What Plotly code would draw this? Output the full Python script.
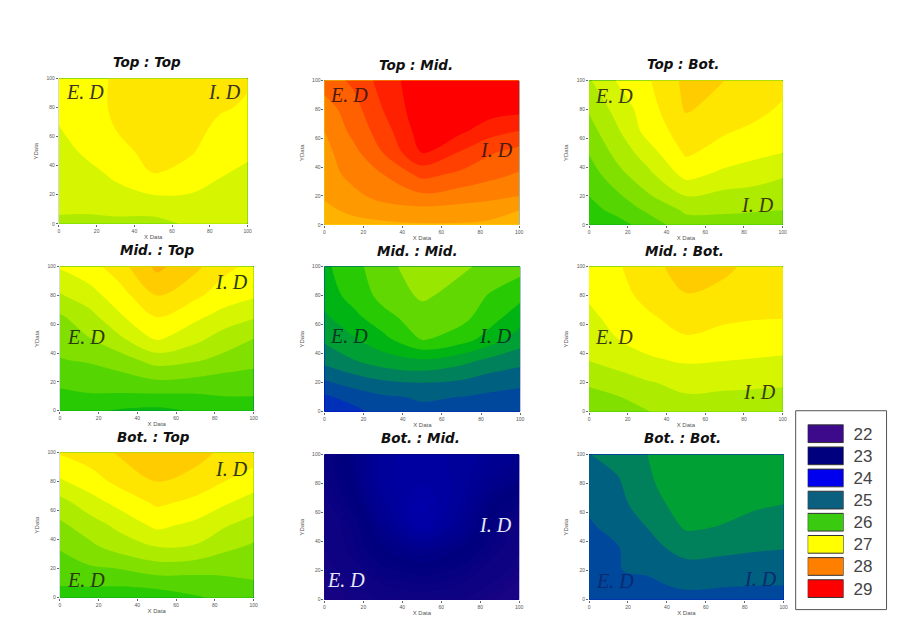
import plotly.graph_objects as go

X_DATA = [0, 15, 30, 50, 70, 85, 100]
Y_DATA = [0, 10, 20, 35, 50, 65, 80, 100]
TICKS = [0, 20, 40, 60, 80, 100]

TOP_TOP = [
    [26.64, 26.64, 26.66, 26.66, 26.72, 26.74, 26.74],
    [26.74, 26.73, 26.74, 26.74, 26.78, 26.79, 26.80],
    [26.76, 26.78, 26.84, 26.90, 26.89, 26.84, 26.82],
    [26.78, 26.84, 26.94, 27.10, 27.03, 26.92, 26.86],
    [26.82, 26.94, 27.04, 27.16, 27.12, 27.00, 26.94],
    [26.89, 27.00, 27.10, 27.18, 27.16, 27.06, 27.00],
    [26.94, 27.02, 27.13, 27.18, 27.17, 27.12, 27.08],
    [26.96, 27.04, 27.12, 27.18, 27.16, 27.14, 27.12],
]
TOP_MID = [
    [27.64, 27.64, 27.66, 27.68, 27.68, 27.66, 27.64],
    [27.66, 27.74, 27.80, 27.84, 27.82, 27.78, 27.70],
    [27.72, 27.84, 27.98, 28.06, 28.00, 27.96, 27.90],
    [27.79, 27.98, 28.10, 28.36, 28.26, 28.16, 28.08],
    [27.84, 28.04, 28.30, 28.70, 28.48, 28.32, 28.22],
    [27.90, 28.16, 28.40, 28.80, 28.74, 28.58, 28.50],
    [28.00, 28.22, 28.50, 28.84, 28.84, 28.80, 28.76],
    [28.20, 28.34, 28.58, 28.84, 28.88, 28.88, 28.88],
]
TOP_BOT = [
    [25.90, 26.03, 26.18, 26.42, 26.44, 26.43, 26.42],
    [26.03, 26.16, 26.33, 26.53, 26.52, 26.51, 26.50],
    [26.10, 26.27, 26.47, 26.70, 26.64, 26.62, 26.60],
    [26.20, 26.44, 26.64, 26.97, 26.85, 26.80, 26.72],
    [26.31, 26.57, 26.80, 27.13, 27.02, 26.95, 26.90],
    [26.42, 26.68, 26.97, 27.20, 27.12, 27.06, 27.00],
    [26.52, 26.78, 27.00, 27.32, 27.22, 27.16, 27.07],
    [26.68, 26.92, 27.07, 27.35, 27.30, 27.22, 27.16],
]
MID_TOP = [
    [25.93, 25.95, 25.88, 25.85, 25.92, 25.98, 26.00],
    [26.05, 26.08, 26.07, 26.06, 26.07, 26.10, 26.10],
    [26.14, 26.17, 26.20, 26.27, 26.24, 26.20, 26.19],
    [26.29, 26.32, 26.40, 26.58, 26.52, 26.44, 26.37],
    [26.37, 26.49, 26.65, 26.93, 26.76, 26.60, 26.50],
    [26.47, 26.62, 26.86, 27.10, 26.94, 26.82, 26.72],
    [26.68, 26.82, 27.00, 27.31, 27.14, 27.00, 26.93],
    [26.92, 27.02, 27.20, 27.55, 27.35, 27.15, 27.05],
]
MID_MID = [
    [24.38, 24.55, 24.72, 24.82, 24.78, 24.70, 24.62],
    [24.58, 24.72, 24.84, 24.90, 24.87, 24.82, 24.78],
    [24.83, 24.98, 25.08, 25.13, 25.08, 24.98, 24.93],
    [25.20, 25.36, 25.50, 25.58, 25.45, 25.30, 25.20],
    [25.42, 25.60, 25.80, 26.15, 26.00, 25.75, 25.50],
    [25.58, 25.80, 26.05, 26.25, 26.20, 25.98, 25.72],
    [25.73, 25.98, 26.20, 26.42, 26.27, 26.10, 25.95],
    [25.82, 26.05, 26.27, 26.55, 26.42, 26.30, 26.22],
]
MID_BOT = [
    [26.38, 26.44, 26.49, 26.60, 26.62, 26.62, 26.60],
    [26.43, 26.49, 26.57, 26.68, 26.66, 26.65, 26.64],
    [26.53, 26.60, 26.68, 26.76, 26.75, 26.74, 26.73],
    [26.70, 26.78, 26.87, 26.92, 26.90, 26.89, 26.88],
    [26.78, 26.90, 26.97, 27.08, 27.00, 26.97, 26.96],
    [26.85, 26.98, 27.07, 27.18, 27.15, 27.12, 27.11],
    [26.93, 27.04, 27.15, 27.29, 27.24, 27.18, 27.16],
    [26.98, 27.08, 27.22, 27.40, 27.34, 27.25, 27.20],
]
BOT_TOP = [
    [25.97, 25.97, 25.95, 25.98, 26.08, 26.14, 26.18],
    [26.13, 26.14, 26.14, 26.18, 26.20, 26.25, 26.28],
    [26.20, 26.27, 26.30, 26.40, 26.38, 26.35, 26.37],
    [26.32, 26.45, 26.58, 26.70, 26.68, 26.55, 26.47],
    [26.46, 26.60, 26.75, 26.95, 26.85, 26.72, 26.62],
    [26.62, 26.80, 26.95, 27.13, 27.05, 26.92, 26.80],
    [26.87, 27.00, 27.15, 27.30, 27.20, 27.10, 27.00],
    [27.12, 27.20, 27.32, 27.47, 27.40, 27.24, 27.20],
]
BOT_MID = [
    [22.62, 22.68, 22.74, 22.78, 22.74, 22.64, 22.58],
    [22.64, 22.72, 22.82, 22.86, 22.82, 22.72, 22.60],
    [22.68, 22.78, 22.90, 22.96, 22.90, 22.78, 22.68],
    [22.72, 22.86, 23.02, 23.12, 23.02, 22.88, 22.74],
    [22.74, 22.88, 23.12, 23.36, 23.16, 22.96, 22.78],
    [22.78, 22.96, 23.20, 23.40, 23.22, 23.02, 22.92],
    [22.85, 23.02, 23.26, 23.32, 23.26, 23.12, 23.02],
    [22.88, 23.05, 23.26, 23.30, 23.26, 23.20, 23.12],
]
BOT_BOT = [
    [24.65, 24.68, 24.72, 24.78, 24.78, 24.78, 24.78],
    [24.70, 24.78, 24.83, 24.92, 24.89, 24.88, 24.875],
    [24.72, 24.87, 24.90, 25.04, 25.00, 24.97, 24.95],
    [24.78, 24.86, 25.05, 25.20, 25.18, 25.15, 25.13],
    [24.84, 24.97, 25.13, 25.41, 25.36, 25.30, 25.23],
    [24.92, 25.05, 25.25, 25.50, 25.44, 25.40, 25.37],
    [25.00, 25.10, 25.33, 25.55, 25.50, 25.48, 25.47],
    [25.12, 25.20, 25.375, 25.55, 25.52, 25.50, 25.50],
]

TITLES = ["Top : Top", "Top : Mid.", "Top : Bot.",
          "Mid. : Top", "Mid. : Mid.", "Mid. : Bot.",
          "Bot. : Top", "Bot. : Mid.", "Bot. : Bot."]
PANELS = [TOP_TOP, TOP_MID, TOP_BOT, MID_TOP, MID_MID, MID_BOT, BOT_TOP, BOT_MID, BOT_BOT]
BAND_SIZE = [0.2, 0.2, 0.2, 0.2, 0.25, 0.2, 0.2, 0.05, 0.25]
BAND_START = [21.9, 21.9, 21.9, 21.9, 21.875, 21.9, 21.9, 21.975, 21.875]

LEGEND_VALUES = ["22", "23", "24", "25", "26", "27", "28", "29"]
LEGEND_COLORS = ["#3d0a8c", "#00007f", "#0000ee", "#0b6080", "#3acb10", "#ffff00", "#ff8000", "#ff0000"]

RAMP_VALUES = [22, 23, 24, 25, 25.5, 25.75, 26, 26.5, 27, 28, 28.8, 29]
RAMP_COLORS = ["#3d0a8c", "#00007f", "#0000ee", "#006080", "#00a035", "#00b414", "#28ca04", "#99e600",
               "#ffff00", "#ff8000", "#ff0000", "#ff0000"]

W, H = 912, 632
# the photographed page comes out about 0.45% smaller than the layout size
W_EFF, H_EFF = 908.5, 629.5
# left, right, top, bottom in pixels
BOXES = [(58, 247, 76, 222), (324, 519, 78, 223), (589, 783, 78, 223),
         (59, 253, 265, 410), (324, 520, 265, 411), (589, 783, 265, 411),
         (59, 253, 452, 598), (324, 519, 454, 600), (589, 784, 454, 600)]
TITLE_POS = [(146, 59), (416, 62), (683, 61), (156, 248), (417, 249), (685, 249),
             (153, 436), (420, 437), (683, 437)]
E_D_POS = [(84, 90), (349, 93), (614, 94), (85, 336), (349, 335), (614, 336),
           (85, 580), (346, 580), (615, 581)]
I_D_POS = [(224, 90), (496, 148), (758, 203), (231, 281), (495, 335), (760, 391),
           (231, 469), (495, 525), (761, 579)]
LABEL_COLORS = ["#3a3320", "#4a1a10", "#3a3a10", "#2a3a10", "#0a3a20", "#3a3a10",
                "#2a3a10", "#e8e8f8", "#0a2a70"]


def px(x):
    return x / W_EFF


def py(y):
    return 1 - y / H_EFF


zlo, zhi = RAMP_VALUES[0], RAMP_VALUES[-1]
colorscale = [[(v - zlo) / (zhi - zlo), c] for v, c in zip(RAMP_VALUES, RAMP_COLORS)]

fig = go.Figure()
axis_style = dict(showgrid=False, zeroline=False, ticks="outside", ticklen=2, tickwidth=0.6,
                  tickcolor="#666", tickfont=dict(size=5, color="#555", family="Liberation Sans"),
                  tickvals=TICKS, range=[0, 100], showline=False)
title_font = dict(size=6, color="#555", family="Liberation Sans")
ann = []
for i, z in enumerate(PANELS):
    n = "" if i == 0 else str(i + 1)
    fig.add_trace(go.Contour(
        x=X_DATA, y=Y_DATA, z=z, xaxis="x" + n, yaxis="y" + n,
        zmin=zlo, zmax=zhi, colorscale=colorscale, showscale=False,
        contours=dict(start=BAND_START[i], end=29.4, size=BAND_SIZE[i], coloring="fill", showlines=False),
        line=dict(width=0), hoverinfo="skip",
    ))
    l, r, t, b = BOXES[i]
    fig.layout["xaxis" + n] = dict(domain=[px(l), px(r)], anchor="y" + n,
                                   title=dict(text="X Data", font=title_font, standoff=2), **axis_style)
    fig.layout["yaxis" + n] = dict(domain=[py(b), py(t)], anchor="x" + n,
                                   title=dict(text="YData", font=title_font, standoff=7), **axis_style)
    tx, ty = TITLE_POS[i]
    ann.append(dict(x=px(tx), y=py(ty), xref="paper", yref="paper", showarrow=False,
                    xanchor="center", yanchor="middle",
                    text="<b><i>" + TITLES[i] + "</i></b>",
                    font=dict(size=13.5, color="#111", family="DejaVu Sans")))
    for txt, pos in (("E. D", E_D_POS[i]), ("I. D", I_D_POS[i])):
        ann.append(dict(x=px(pos[0]), y=py(pos[1]), xref="paper", yref="paper", showarrow=False,
                        xanchor="center", yanchor="middle",
                        text="<i>" + txt + "</i>",
                        font=dict(size=20, color=LABEL_COLORS[i], family="Liberation Serif")))

# colour key
fig.add_trace(go.Bar(x=[1] * 8, y=LEGEND_VALUES, orientation="h", xaxis="x10", yaxis="y10",
                     marker=dict(color=LEGEND_COLORS, line=dict(color="#333", width=1)),
                     width=0.8, hoverinfo="skip"))
fig.layout.xaxis10 = dict(domain=[px(808), px(844)], range=[0, 1], anchor="y10", visible=False)
fig.layout.yaxis10 = dict(domain=[py(600), py(422)], anchor="x10", side="right", autorange="reversed",
                          showgrid=False, zeroline=False, showline=False, ticks="",
                          ticklabelstandoff=9,
                          tickfont=dict(size=17, color="#444", family="Liberation Sans"))

fig.update_layout(
    width=W, height=H, margin=dict(l=0, r=0, t=0, b=0), showlegend=False,
    paper_bgcolor="white", plot_bgcolor="white", annotations=ann,
    shapes=[dict(type="rect", xref="paper", yref="paper", x0=px(796), x1=px(887), y0=py(610), y1=py(410),
                 line=dict(color="#555", width=1), fillcolor="rgba(0,0,0,0)")],
)
fig.write_html("out.html", config={"displayModeBar": False},
               post_script="document.body.style.margin='0';"
                           "document.documentElement.style.overflow='hidden';"
                           "document.body.style.overflow='hidden';")
